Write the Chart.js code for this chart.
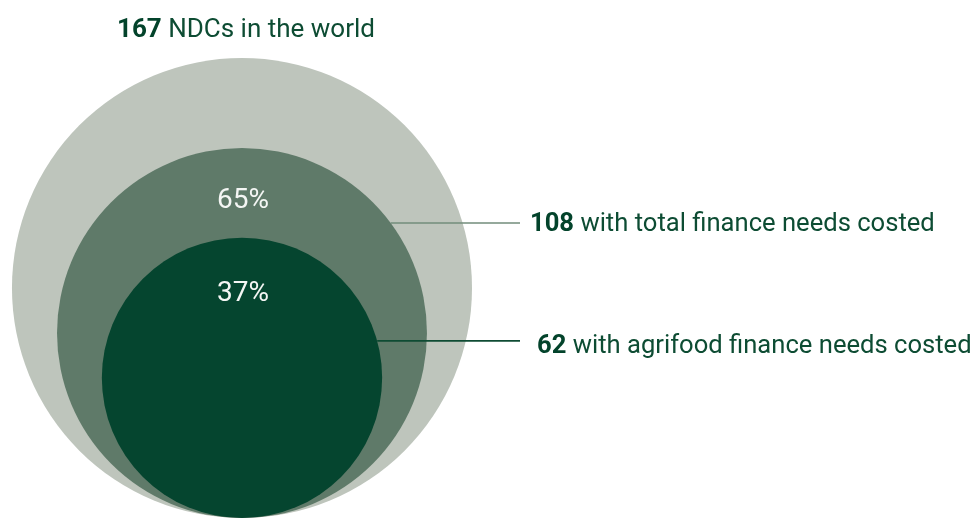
<!DOCTYPE html>
<html><head><meta charset="utf-8">
<script src="https://cdn.jsdelivr.net/npm/chart.js@4"></script>
<style>html,body{margin:0;padding:0;background:#fff;overflow:hidden}#wrap{width:973px;height:518px;position:relative}</style>
</head><body><div id="wrap"><canvas id="c"></canvas></div>
<script>
// ---- data ----
const counts = [167, 108, 62];
const labelTexts = ['NDCs in the world', 'with total finance needs costed', 'with agrifood finance needs costed'];
const circleColors = ['#bec5bc', '#5f7a69', '#05452f'];

// radius (in scale units) proportional to sqrt(count) -> area proportional
const radiusUnits = counts.map(c => Math.sqrt(c / counts[0]));
const points = radiusUnits.map(r => ({ x: 0, y: r }));

const FONT = 'Roboto, "Noto Sans", sans-serif';
const FS = 25.6;
const TEXT = '#0d4c33';
const BOLD = '#03432b';

function unitToPx(chart, u) {
  const y = chart.scales && chart.scales.y;
  if (!y || u === undefined) return 0;
  const v = y.getPixelForValue(0) - y.getPixelForValue(u);
  return isFinite(v) ? v : 0;
}

function drawRich(ctx, bold, rest, x, y, align, fs) {
  ctx.textAlign = 'left';
  ctx.font = 'bold ' + fs + 'px ' + FONT;
  const wb = ctx.measureText(bold).width;
  ctx.font = fs + 'px ' + FONT;
  const wr = ctx.measureText(rest).width;
  const sx = align === 'center' ? x - (wb + wr) / 2 : x;
  ctx.font = 'bold ' + fs + 'px ' + FONT;
  ctx.fillStyle = BOLD;
  ctx.fillText(bold, sx, y);
  ctx.font = fs + 'px ' + FONT;
  ctx.fillStyle = TEXT;
  ctx.fillText(rest, sx + wb, y);
}

const labelPlugin = {
  id: 'labels',
  afterDatasetsDraw(chart) {
    const ctx = chart.ctx;
    const els = chart.getDatasetMeta(0).data;
    const rad = radiusUnits.map(u => unitToPx(chart, u));
    ctx.save();
    ctx.textBaseline = 'middle';
    // title above the outer circle
    drawRich(ctx, String(counts[0]), ' ' + labelTexts[0], els[0].x + 4, els[0].y - rad[0] - 27, 'center', 26);
    // percentages inside the circles
    ctx.font = '28px ' + FONT;
    ctx.fillStyle = '#f4f6f4';
    ctx.textAlign = 'center';
    const pctOffsets = [0, 53, 56];
    for (let i = 1; i < counts.length; i++) {
      const pct = Math.round(counts[i] / counts[0] * 100) + '%';
      ctx.fillText(pct, els[i].x + 1, els[i].y - rad[i] + pctOffsets[i]);
    }
    // leader lines and labels
    const leaders = [
      { i: 1, dy: -110, color: '#728c7b', textX: 530, textDy: 2 },
      { i: 2, dy: -37, color: '#0e4b33', textX: 537, textDy: 6 }
    ];
    leaders.forEach(L => {
      const e = els[L.i], r = rad[L.i];
      const y = e.y + L.dy;
      const x0 = e.x + Math.sqrt(Math.max(0, r * r - L.dy * L.dy));
      ctx.strokeStyle = L.color;
      ctx.lineWidth = 1.6;
      ctx.beginPath();
      ctx.moveTo(x0, y);
      ctx.lineTo(520, y);
      ctx.stroke();
      drawRich(ctx, String(counts[L.i]), ' ' + labelTexts[L.i], L.textX, y + L.textDy, 'left', FS);
    });
    ctx.restore();
  }
};

const chart = new Chart(document.getElementById('c'), {
  type: 'bubble',
  data: {
    labels: labelTexts,
    datasets: [{
      data: points,
      backgroundColor: circleColors,
      borderWidth: 0,
      radius: ctx => unitToPx(ctx.chart, radiusUnits[ctx.dataIndex])
    }]
  },
  options: {
    responsive: true,
    maintainAspectRatio: false,
    animation: false,
    events: [],
    layout: { padding: 0, autoPadding: false },
    plugins: { legend: { display: false }, tooltip: { enabled: false } },
    scales: {
      x: { type: 'linear', display: false, min: -1.052, max: 3.178 },
      y: { type: 'linear', display: false, min: 0, max: 2.252 }
    }
  },
  plugins: [labelPlugin]
});
// second pass: re-parse so bubble radii resolve against the laid-out scales
chart.data.datasets[0].data = points.map(p => ({ x: p.x, y: p.y }));
chart.update('none');
</script></body></html>
